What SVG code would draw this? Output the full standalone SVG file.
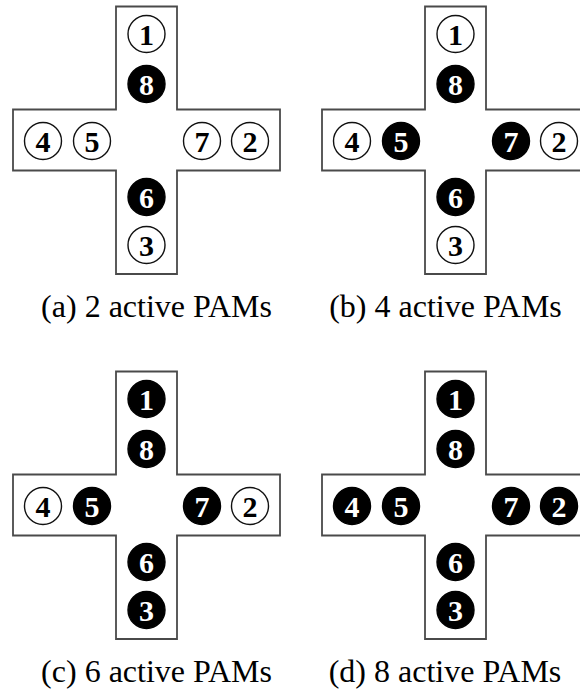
<svg xmlns="http://www.w3.org/2000/svg" xmlns:xlink="http://www.w3.org/1999/xlink" width="580" height="694" viewBox="0 0 580 694">
<style>
.cross{fill:#fff;stroke:#4a4a4a;stroke-width:1.8}
.off circle{fill:#fff;stroke:#111;stroke-width:1.4}
.off text{fill:#000}
.on circle{fill:#000;stroke:#000;stroke-width:1.4}
.on text{fill:#fff}
text{font-family:'Liberation Serif','Times New Roman','DejaVu Serif',serif}
.pam text{font-weight:bold;font-size:30px;text-anchor:middle}
.cap{font-size:32px;text-anchor:middle;fill:#000}
</style>
<defs>
<path id="crossShape" class="cross" d="M116,6.5 H177 V109.5 H280 V170.5 H177 V274 H116 V170.5 H13 V109.5 H116 Z"/>
</defs>
<rect width="580" height="694" fill="#fff"/>
<g id="connectors"></g>

<g id="panel-a">
<use xlink:href="#crossShape"/>
<g id="a-pam1" class="pam off"><circle cx="146.5" cy="34" r="18.5"/><text x="146.5" y="44.5" font-family="Liberation Serif, serif">1</text></g>
<g id="a-pam8" class="pam on"><circle cx="146.5" cy="84" r="18.5"/><text x="146.5" y="94.5" font-family="Liberation Serif, serif">8</text></g>
<g id="a-pam6" class="pam on"><circle cx="146.5" cy="197" r="18.5"/><text x="146.5" y="207.5" font-family="Liberation Serif, serif">6</text></g>
<g id="a-pam3" class="pam off"><circle cx="146.5" cy="245" r="18.5"/><text x="146.5" y="255.5" font-family="Liberation Serif, serif">3</text></g>
<g id="a-pam4" class="pam off"><circle cx="43" cy="141" r="18.5"/><text x="43" y="151.5" font-family="Liberation Serif, serif">4</text></g>
<g id="a-pam5" class="pam off"><circle cx="92" cy="141" r="18.5"/><text x="92" y="151.5" font-family="Liberation Serif, serif">5</text></g>
<g id="a-pam7" class="pam off"><circle cx="202" cy="141" r="18.5"/><text x="202" y="151.5" font-family="Liberation Serif, serif">7</text></g>
<g id="a-pam2" class="pam off"><circle cx="250" cy="141" r="18.5"/><text x="250" y="151.5" font-family="Liberation Serif, serif">2</text></g>
<text id="a-caption" class="cap" x="156.5" y="317" font-family="Liberation Serif, serif">(a) 2 active PAMs</text>
</g>

<g id="panel-b">
<g transform="translate(309,0)">
<use xlink:href="#crossShape"/>
<g id="b-pam1" class="pam off"><circle cx="146.5" cy="34" r="18.5"/><text x="146.5" y="44.5" font-family="Liberation Serif, serif">1</text></g>
<g id="b-pam8" class="pam on"><circle cx="146.5" cy="84" r="18.5"/><text x="146.5" y="94.5" font-family="Liberation Serif, serif">8</text></g>
<g id="b-pam6" class="pam on"><circle cx="146.5" cy="197" r="18.5"/><text x="146.5" y="207.5" font-family="Liberation Serif, serif">6</text></g>
<g id="b-pam3" class="pam off"><circle cx="146.5" cy="245" r="18.5"/><text x="146.5" y="255.5" font-family="Liberation Serif, serif">3</text></g>
<g id="b-pam4" class="pam off"><circle cx="43" cy="141" r="18.5"/><text x="43" y="151.5" font-family="Liberation Serif, serif">4</text></g>
<g id="b-pam5" class="pam on"><circle cx="92" cy="141" r="18.5"/><text x="92" y="151.5" font-family="Liberation Serif, serif">5</text></g>
<g id="b-pam7" class="pam on"><circle cx="202" cy="141" r="18.5"/><text x="202" y="151.5" font-family="Liberation Serif, serif">7</text></g>
<g id="b-pam2" class="pam off"><circle cx="250" cy="141" r="18.5"/><text x="250" y="151.5" font-family="Liberation Serif, serif">2</text></g>
</g>
<text id="b-caption" class="cap" x="445.5" y="317" font-family="Liberation Serif, serif">(b) 4 active PAMs</text>
</g>

<g id="panel-c">
<g transform="translate(0,365)">
<use xlink:href="#crossShape"/>
<g id="c-pam1" class="pam on"><circle cx="146.5" cy="34" r="18.5"/><text x="146.5" y="44.5" font-family="Liberation Serif, serif">1</text></g>
<g id="c-pam8" class="pam on"><circle cx="146.5" cy="84" r="18.5"/><text x="146.5" y="94.5" font-family="Liberation Serif, serif">8</text></g>
<g id="c-pam6" class="pam on"><circle cx="146.5" cy="197" r="18.5"/><text x="146.5" y="207.5" font-family="Liberation Serif, serif">6</text></g>
<g id="c-pam3" class="pam on"><circle cx="146.5" cy="245" r="18.5"/><text x="146.5" y="255.5" font-family="Liberation Serif, serif">3</text></g>
<g id="c-pam4" class="pam off"><circle cx="43" cy="141" r="18.5"/><text x="43" y="151.5" font-family="Liberation Serif, serif">4</text></g>
<g id="c-pam5" class="pam on"><circle cx="92" cy="141" r="18.5"/><text x="92" y="151.5" font-family="Liberation Serif, serif">5</text></g>
<g id="c-pam7" class="pam on"><circle cx="202" cy="141" r="18.5"/><text x="202" y="151.5" font-family="Liberation Serif, serif">7</text></g>
<g id="c-pam2" class="pam off"><circle cx="250" cy="141" r="18.5"/><text x="250" y="151.5" font-family="Liberation Serif, serif">2</text></g>
</g>
<text id="c-caption" class="cap" x="156.5" y="682" font-family="Liberation Serif, serif">(c) 6 active PAMs</text>
</g>

<g id="panel-d">
<g transform="translate(309,365)">
<use xlink:href="#crossShape"/>
<g id="d-pam1" class="pam on"><circle cx="146.5" cy="34" r="18.5"/><text x="146.5" y="44.5" font-family="Liberation Serif, serif">1</text></g>
<g id="d-pam8" class="pam on"><circle cx="146.5" cy="84" r="18.5"/><text x="146.5" y="94.5" font-family="Liberation Serif, serif">8</text></g>
<g id="d-pam6" class="pam on"><circle cx="146.5" cy="197" r="18.5"/><text x="146.5" y="207.5" font-family="Liberation Serif, serif">6</text></g>
<g id="d-pam3" class="pam on"><circle cx="146.5" cy="245" r="18.5"/><text x="146.5" y="255.5" font-family="Liberation Serif, serif">3</text></g>
<g id="d-pam4" class="pam on"><circle cx="43" cy="141" r="18.5"/><text x="43" y="151.5" font-family="Liberation Serif, serif">4</text></g>
<g id="d-pam5" class="pam on"><circle cx="92" cy="141" r="18.5"/><text x="92" y="151.5" font-family="Liberation Serif, serif">5</text></g>
<g id="d-pam7" class="pam on"><circle cx="202" cy="141" r="18.5"/><text x="202" y="151.5" font-family="Liberation Serif, serif">7</text></g>
<g id="d-pam2" class="pam on"><circle cx="250" cy="141" r="18.5"/><text x="250" y="151.5" font-family="Liberation Serif, serif">2</text></g>
</g>
<text id="d-caption" class="cap" x="445" y="682" font-family="Liberation Serif, serif">(d) 8 active PAMs</text>
</g>
</svg>
